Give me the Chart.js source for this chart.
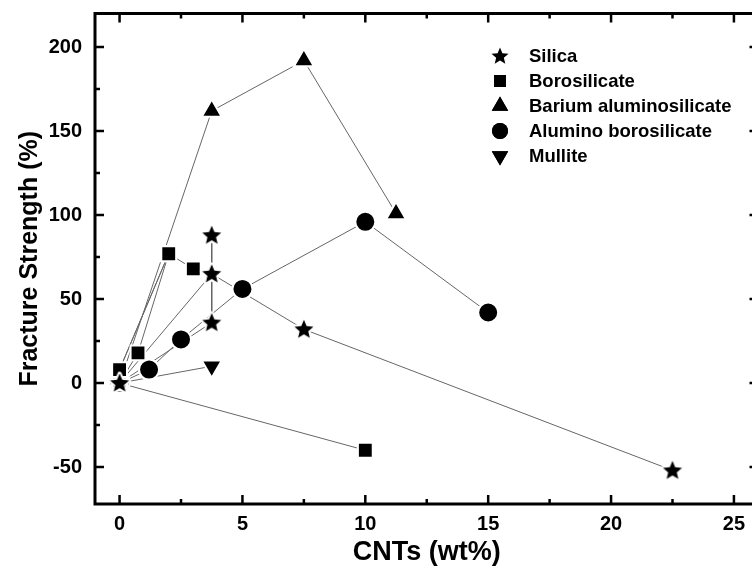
<!DOCTYPE html>
<html>
<head>
<meta charset="utf-8">
<title>Fracture strength vs CNT content</title>
<script src="https://cdn.jsdelivr.net/npm/chart.js@4.4.0/dist/chart.umd.min.js"></script>
<style>
  html, body { margin: 0; padding: 0; background: #fff; overflow: hidden; }
</style>
</head>
<body>
<canvas id="chart" width="772" height="571"></canvas>
<script>
// values: x = CNTs (wt%), y = fracture strength change (%)
const seriesNames = ['Silica', 'Borosilicate', 'Barium aluminosilicate', 'Alumino borosilicate', 'Mullite'];

// points are listed in the order the lines join them
const silicaX = [3.75, 3.75, 0, 3.75, 7.5, 22.5];
const silicaY = [88, 36, 0, 65, 32, -52];

const borosilicateX = [10, 0, 0.75, 2, 0, 2, 3];
const borosilicateY = [-40, 0, 18, 77, 8, 77, 68];

const bariumX = [0, 3.75, 7.5, 11.25];
const bariumY = [0, 162, 192, 101];

const aluminoX = [0, 1.2, 2.5, 5, 10, 15];
const aluminoY = [0, 8, 26, 56, 96, 42];

const mulliteX = [0, 3.75];
const mulliteY = [0, 10];

const xTicks = [0, 5, 10, 15, 20, 25];
const yTicks = [-50, 0, 50, 100, 150, 200];

const FONT = "'Liberation Sans', Arial, sans-serif";

// filled star used as a point style (white rim keeps lines off the marker)
function drawStar(g, cx, cy, R, rim) {
    g.beginPath();
    for (let i = 0; i < 10; i++) {
        const r = i % 2 === 0 ? R : R * 0.45;
        const a = -Math.PI / 2 + i * Math.PI / 5;
        g.lineTo(cx + r * Math.cos(a), cy + r * Math.sin(a));
    }
    g.closePath();
    if (rim) {
        g.strokeStyle = '#fff';
        g.lineWidth = rim;
        g.lineJoin = 'round';
        g.stroke();
    }
    g.fillStyle = '#000';
    g.fill();
}

function makeStarImage(R, rim) {
    const size = Math.ceil(2 * R + 2 * rim + 2);
    const c = document.createElement('canvas');
    c.width = c.height = size;
    drawStar(c.getContext('2d'), size / 2, size / 2 + 0.5, R, rim);
    return c;
}

const starImg = makeStarImage(10, 4);

const markers = [
    { style: starImg, radius: 10, rotation: 0 },
    { style: 'rect', radius: 10.5, rotation: 0 },
    { style: 'triangle', radius: 11.5, rotation: 0 },
    { style: 'circle', radius: 10, rotation: 0 },
    { style: 'triangle', radius: 11.5, rotation: 180 }
];

const allX = [silicaX, borosilicateX, bariumX, aluminoX, mulliteX];
const allY = [silicaY, borosilicateY, bariumY, aluminoY, mulliteY];

function toPoints(xs, ys) {
    return xs.map((v, i) => ({ x: v, y: ys[i] }));
}

const datasets = [];
// lines underneath every marker
allX.forEach((xs, i) => {
    datasets.push({
        label: seriesNames[i] + ' line',
        data: toPoints(xs, allY[i]),
        showLine: true,
        borderColor: '#666',
        borderWidth: 1,
        pointRadius: 0,
        order: 2
    });
});
allX.forEach((xs, i) => {
    const m = markers[i];
    datasets.push({
        label: seriesNames[i],
        data: toPoints(xs, allY[i]),
        showLine: false,
        pointStyle: m.style,
        pointRadius: m.radius,
        pointRotation: m.rotation,
        pointBackgroundColor: '#000',
        pointBorderColor: '#fff',
        pointBorderWidth: 2,
        order: 1
    });
});

// box frame with inward ticks on all four sides
const framePlugin = {
    id: 'frame',
    afterDraw(chart) {
        const { ctx, chartArea: a, scales: { x, y } } = chart;
        ctx.save();
        ctx.strokeStyle = '#000';
        ctx.lineWidth = 2.5;
        ctx.lineCap = 'butt';
        const major = 9, minor = 5;
        ctx.beginPath();
        xTicks.forEach((v, i) => {
            const vals = [v];
            if (i < xTicks.length - 1) vals.push((v + xTicks[i + 1]) / 2);
            vals.forEach((t, k) => {
                const px = x.getPixelForValue(t);
                const len = k === 0 ? major : minor;
                ctx.moveTo(px, a.bottom); ctx.lineTo(px, a.bottom - len);
                ctx.moveTo(px, a.top); ctx.lineTo(px, a.top + len);
            });
        });
        yTicks.forEach((v, i) => {
            const vals = [v];
            if (i < yTicks.length - 1) vals.push((v + yTicks[i + 1]) / 2);
            vals.forEach((t, k) => {
                const py = y.getPixelForValue(t);
                const len = k === 0 ? major : minor;
                ctx.moveTo(a.left, py); ctx.lineTo(a.left + len, py);
                ctx.moveTo(a.right, py); ctx.lineTo(a.right - len, py);
            });
        });
        ctx.stroke();
        ctx.lineWidth = 3;
        ctx.strokeRect(a.left, a.top, a.right - a.left, a.bottom - a.top);
        ctx.restore();
    }
};

// legend in the upper right of the plot, drawn by hand to keep filled stars
const legendPlugin = {
    id: 'boxLegend',
    afterDraw(chart) {
        const ctx = chart.ctx;
        const symX = 500, textX = 529, top = 56, step = 25;
        ctx.save();
        ctx.font = 'bold 18.5px ' + FONT;
        ctx.textBaseline = 'middle';
        ctx.textAlign = 'left';
        seriesNames.forEach((name, i) => {
            const cy = top + i * step;
            ctx.fillStyle = '#000';
            if (i === 0) {
                drawStar(ctx, symX, cy + 0.5, 9, 0);
            } else {
                const m = markers[i];
                Chart.helpers.drawPoint(ctx, {
                    pointStyle: m.style,
                    rotation: m.rotation,
                    radius: m.radius - 2,
                    borderWidth: 0
                }, symX, cy);
                ctx.fill();
            }
            ctx.fillStyle = '#000';
            ctx.fillText(name, textX, cy + 1);
        });
        ctx.restore();
    }
};

new Chart(document.getElementById('chart'), {
    type: 'scatter',
    data: { datasets },
    options: {
        responsive: false,
        animation: false,
        devicePixelRatio: 1,
        layout: { padding: { top: 10, right: 6, left: 0, bottom: 0 } },
        plugins: {
            legend: { display: false },
            tooltip: { enabled: false }
        },
        scales: {
            x: {
                type: 'linear',
                min: -1,
                max: 26,
                grid: { display: false, drawTicks: false },
                border: { display: false },
                afterBuildTicks: s => { s.ticks = xTicks.map(v => ({ value: v })); },
                afterFit: s => {
                    s.height = 67;
                    s.paddingLeft = 0;
                    s.paddingRight = 0;
                },
                ticks: {
                    color: '#000',
                    padding: 8,
                    font: { family: FONT, size: 20, weight: 'bold' }
                },
                title: {
                    display: true,
                    text: 'CNTs (wt%)',
                    color: '#000',
                    padding: { top: 0, bottom: 2 },
                    font: { family: FONT, size: 27, weight: 'bold' }
                }
            },
            y: {
                type: 'linear',
                min: -72,
                max: 220,
                grid: { display: false, drawTicks: false },
                border: { display: false },
                afterBuildTicks: s => { s.ticks = yTicks.map(v => ({ value: v })); },
                afterFit: s => {
                    s.width = 95;
                    s.paddingTop = 0;
                    s.paddingBottom = 0;
                },
                ticks: {
                    color: '#000',
                    padding: 13,
                    font: { family: FONT, size: 20, weight: 'bold' }
                },
                title: {
                    display: true,
                    text: 'Fracture Strength (%)',
                    color: '#000',
                    padding: { top: 15, bottom: 0 },
                    font: { family: FONT, size: 25, weight: 'bold' }
                }
            }
        }
    },
    plugins: [framePlugin, legendPlugin]
});
</script>
</body>
</html>
